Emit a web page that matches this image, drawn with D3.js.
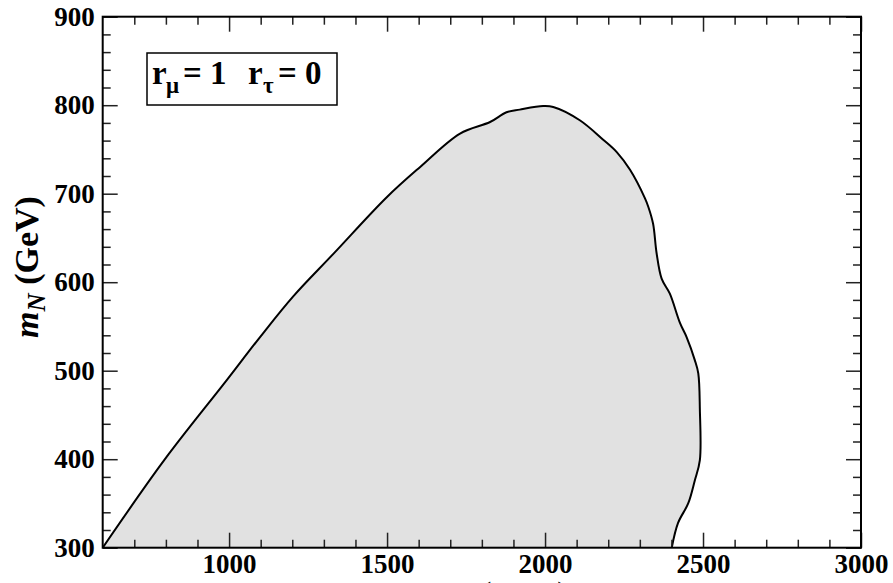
<!DOCTYPE html>
<html>
<head>
<meta charset="utf-8">
<script src="https://cdn.jsdelivr.net/npm/d3@7"></script>
<style>
  body { margin: 0; background: #fff; }
  svg { display: block; }
  svg text { font-family: "Liberation Serif"; font-weight: bold; }
</style>
</head>
<body>
<svg id="chart" width="893" height="583"></svg>
<script>
// ---- data ----
const xMajorTicks = [1000, 1500, 2000, 2500, 3000];
const yMajorTicks = [300, 400, 500, 600, 700, 800, 900];
const xDomain = [600, 3000];
const yDomain = [300, 900];
// boundary of the shaded (allowed) region: m_WR (GeV), m_N (GeV)
const boundaryX = [600, 797, 992, 1098, 1203, 1330, 1499, 1604, 1731, 1826, 1878, 1920, 1994, 2026, 2110, 2184, 2227, 2269, 2316, 2327, 2342, 2353, 2369, 2395, 2427, 2448, 2474, 2485, 2490, 2490, 2474, 2453, 2421, 2401];
const boundaryY = [300, 400, 489, 538, 584, 632, 696, 730, 768, 781, 792, 795, 799, 798, 783, 761, 747, 727, 695, 685, 666, 633, 604, 587, 554, 538, 512, 497, 456, 399, 376, 350, 328, 300];
const legendNames = ["r", "r"];
const legendSubs = ["μ", "τ"];
const legendValues = [1, 0];
const xTitle = ["m", "W", "R", " (GeV)"];
const yTitle = ["m", "N", " (GeV)"];

// ---- layout ----
const FONT = "Liberation Serif";
const svg = d3.select("#chart");
const L = 102.7, R = 861, T = 16.7, B = 547.7;
const x = d3.scaleLinear().domain(xDomain).range([L, R]);
const y = d3.scaleLinear().domain(yDomain).range([B, T]);

svg.append("clipPath").attr("id", "clip")
  .append("rect").attr("x", L).attr("y", T).attr("width", R - L).attr("height", B - T);

const pts = boundaryX.map((d, i) => [d, boundaryY[i]]);
const g = svg.append("g").attr("clip-path", "url(#clip)");
const areaPts = pts.concat([[boundaryX[0], yDomain[0]]]);
g.append("path")
  .attr("d", d3.line().x(d => x(d[0])).y(d => y(d[1])).curve(d3.curveLinearClosed)(areaPts))
  .attr("fill", "#e1e1e1").attr("stroke", "none");
g.append("path")
  .attr("d", d3.line().x(d => x(d[0])).y(d => y(d[1])).curve(d3.curveCatmullRom.alpha(0.5))(pts))
  .attr("fill", "none").attr("stroke", "#000").attr("stroke-width", 2);

// ---- axes ----
const xMinor = d3.range(xDomain[0], xDomain[1] + 1, 100).filter(v => !xMajorTicks.includes(v) && v !== xDomain[0]);
const yMinor = d3.range(yDomain[0], yDomain[1] + 1, 20).filter(v => v % 100 !== 0);
const majorLen = 15, minorLen = 8;

function styleAxis(sel) {
  sel.attr("font-family", FONT);
  sel.select(".domain").remove();
  sel.selectAll(".tick line").attr("stroke", "#222").attr("stroke-width", 1.5);
  sel.selectAll("text").attr("fill", "#000").style("font-size", "27px")
     .style("font-family", FONT).style("font-weight", "bold");
}
svg.append("g").attr("transform", `translate(0,${B})`)
  .call(d3.axisBottom(x).tickValues(xMajorTicks).tickSize(-majorLen).tickPadding(6).tickFormat(d3.format("d")))
  .call(styleAxis);
svg.append("g").attr("transform", `translate(0,${B})`)
  .call(d3.axisBottom(x).tickValues(xMinor).tickSize(-minorLen).tickFormat(""))
  .call(styleAxis);
svg.append("g").attr("transform", `translate(0,${T})`)
  .call(d3.axisTop(x).tickValues(xMajorTicks).tickSize(-majorLen).tickFormat(""))
  .call(styleAxis);
svg.append("g").attr("transform", `translate(0,${T})`)
  .call(d3.axisTop(x).tickValues(xMinor).tickSize(-minorLen).tickFormat(""))
  .call(styleAxis);
svg.append("g").attr("transform", `translate(${L},0)`)
  .call(d3.axisLeft(y).tickValues(yMajorTicks).tickSize(-majorLen).tickPadding(8).tickFormat(d3.format("d")))
  .call(styleAxis);
svg.append("g").attr("transform", `translate(${L},0)`)
  .call(d3.axisLeft(y).tickValues(yMinor).tickSize(-minorLen).tickFormat(""))
  .call(styleAxis);
svg.append("g").attr("transform", `translate(${R},0)`)
  .call(d3.axisRight(y).tickValues(yMajorTicks).tickSize(-majorLen).tickFormat(""))
  .call(styleAxis);
svg.append("g").attr("transform", `translate(${R},0)`)
  .call(d3.axisRight(y).tickValues(yMinor).tickSize(-minorLen).tickFormat(""))
  .call(styleAxis);

svg.append("rect").attr("x", L).attr("y", T).attr("width", R - L).attr("height", B - T)
  .attr("fill", "none").attr("stroke", "#000").attr("stroke-width", 2);

// ---- legend box ----
svg.append("rect").attr("x", 147).attr("y", 53).attr("width", 190).attr("height", 52)
  .attr("fill", "#fff").attr("stroke", "#000").attr("stroke-width", 1.5);
const lt = svg.append("text").style("font-size", "33px").style("font-family", FONT);
const nameX = [152, 248], subX = [166, 263], valX = [183, 278];
legendNames.forEach((n, i) => {
  lt.append("tspan").attr("x", nameX[i]).attr("y", 84).text(n);
  lt.append("tspan").attr("x", subX[i]).attr("y", 93).style("font-size", "23px").text(legendSubs[i]);
  lt.append("tspan").attr("x", valX[i]).attr("y", 84).text("= " + legendValues[i]);
});

// ---- axis titles ----
const yt = svg.append("text").attr("transform", "translate(38,267) rotate(-90)")
  .attr("text-anchor", "middle").style("font-size", "34px").style("font-family", FONT);
yt.append("tspan").style("font-style", "italic").text(yTitle[0]);
yt.append("tspan").attr("dy", 7).style("font-style", "italic").style("font-size", "25px").text(yTitle[1]);
yt.append("tspan").attr("dy", -7).text(yTitle[2]);

const xt = svg.append("text").attr("x", 490).attr("y", 605)
  .attr("text-anchor", "middle").style("font-size", "34px").style("font-family", FONT);
xt.append("tspan").style("font-style", "italic").text(xTitle[0]);
xt.append("tspan").attr("dy", 7).style("font-style", "italic").style("font-size", "25px").text(xTitle[1]);
xt.append("tspan").attr("dy", 4).style("font-style", "italic").style("font-size", "17px").text(xTitle[2]);
xt.append("tspan").attr("dy", -11).text(xTitle[3]);
</script>
</body>
</html>
